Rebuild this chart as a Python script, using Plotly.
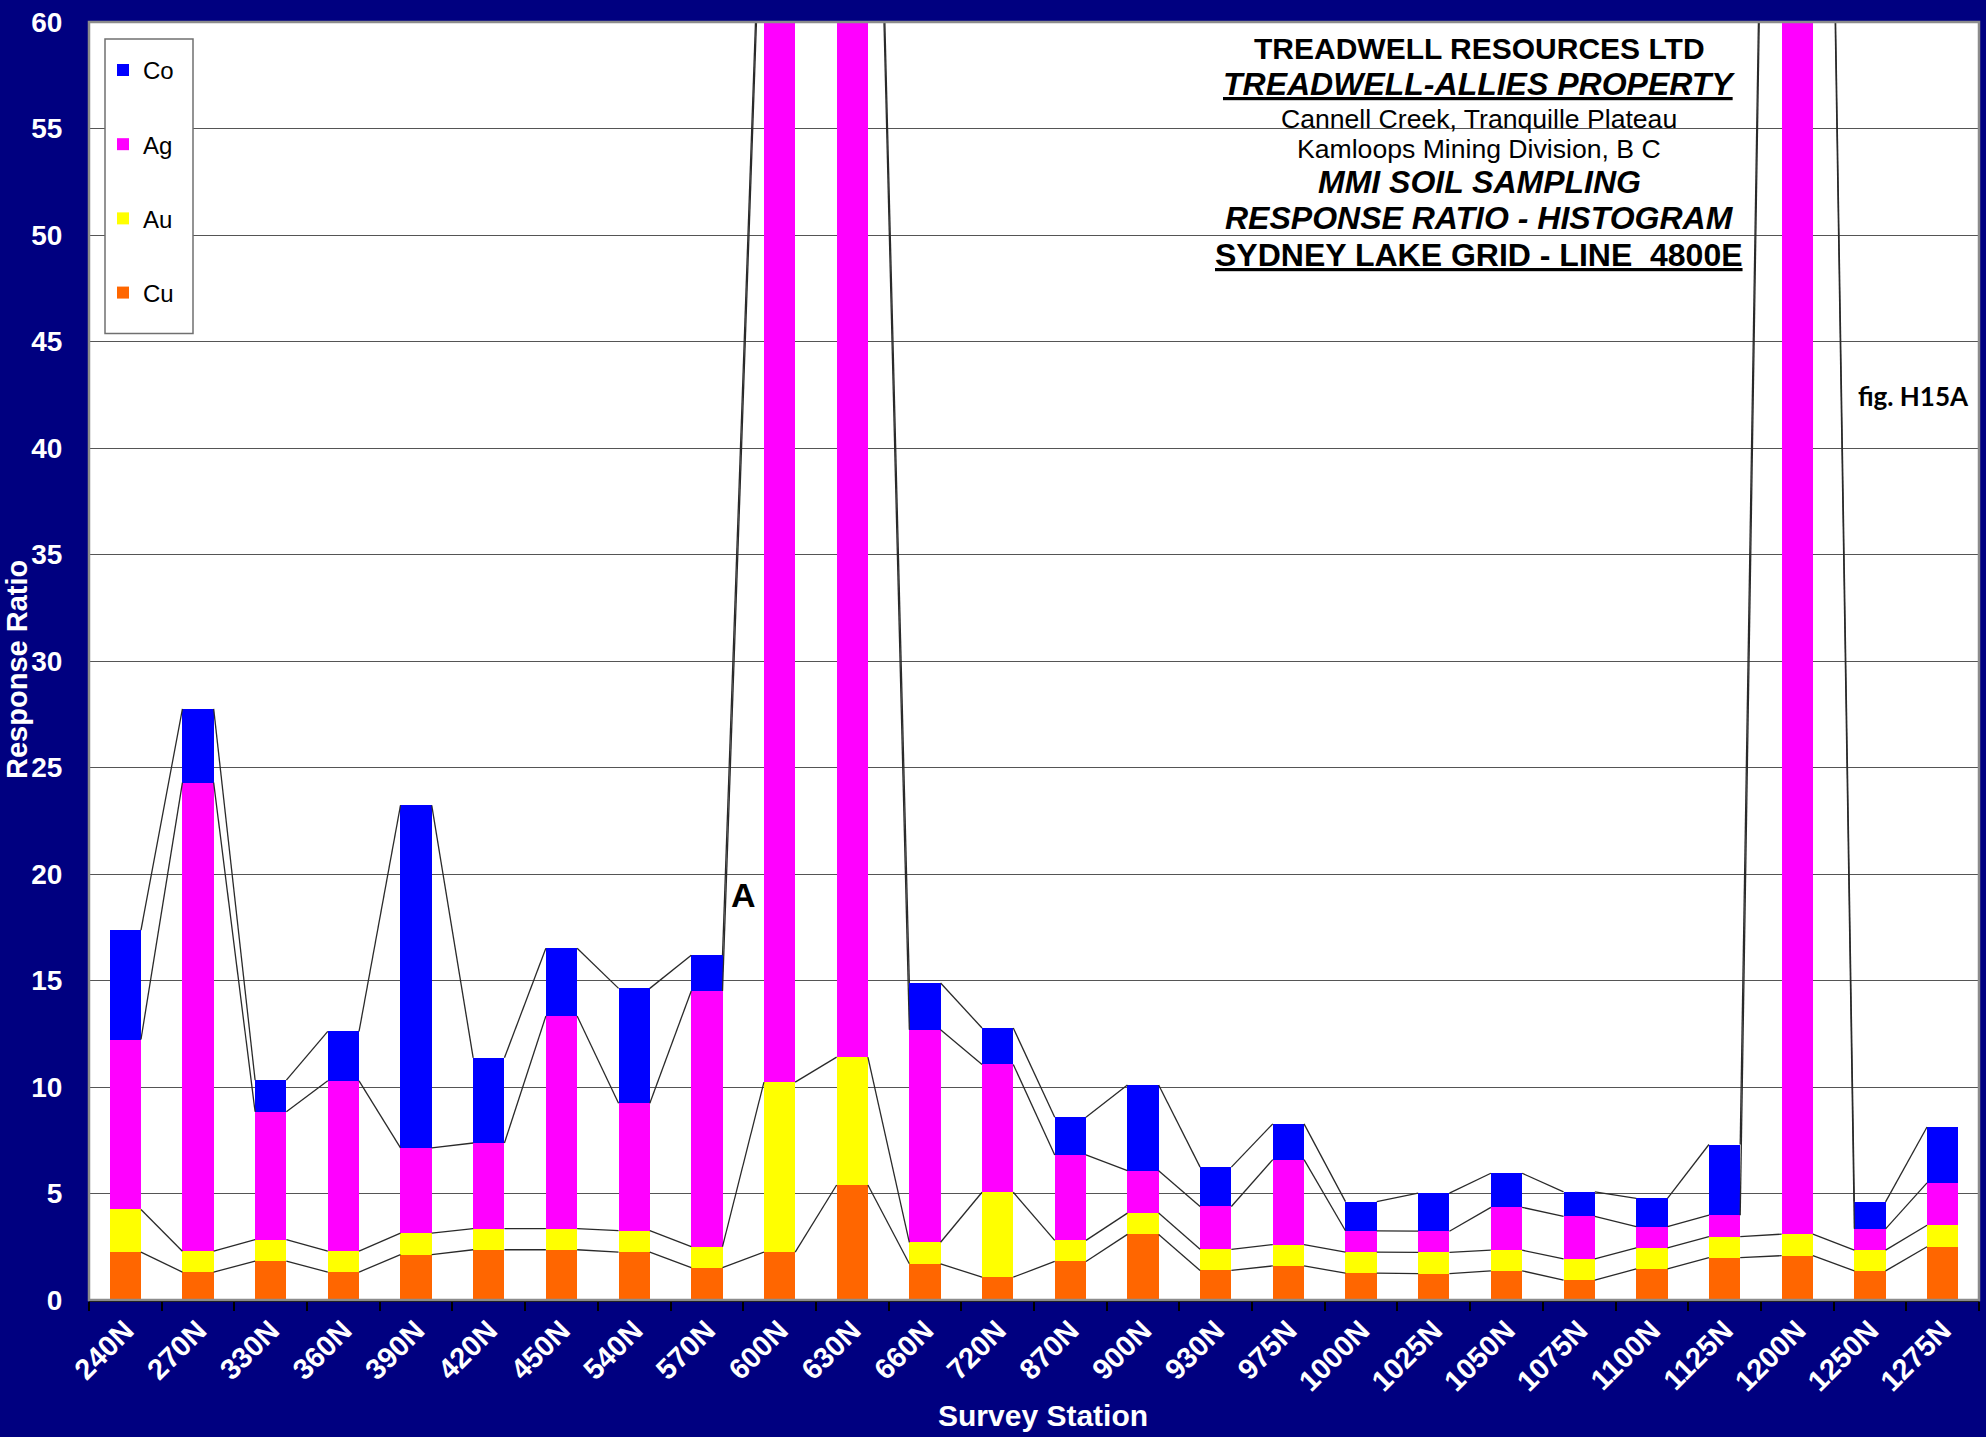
import plotly.graph_objects as go

# ---------------- data ----------------
stations = ["240N", "270N", "330N", "360N", "390N", "420N", "450N", "540N", "570N",
            "600N", "630N", "660N", "720N", "870N", "900N", "930N", "975N", "1000N",
            "1025N", "1050N", "1075N", "1100N", "1125N", "1200N", "1250N", "1275N"]

cu = [2.25, 1.31, 1.83, 1.31, 2.13, 2.36, 2.36, 2.25, 1.52, 2.25, 5.40, 1.70, 1.07,
      1.81, 3.08, 1.39, 1.60, 1.26, 1.24, 1.37, 0.93, 1.46, 1.99, 2.08, 1.37, 2.50]
au = [2.00, 0.98, 1.01, 0.98, 1.01, 0.99, 0.99, 1.01, 0.99, 7.98, 6.00, 1.01, 3.99,
      0.99, 1.00, 0.99, 1.00, 0.99, 1.00, 0.97, 1.00, 0.99, 0.99, 1.01, 0.97, 1.01]
ag = [7.98, 22.00, 6.00, 8.00, 4.00, 4.02, 9.98, 5.98, 12.00, 59.8, 78.6, 9.98, 6.00,
      4.01, 1.99, 2.01, 3.99, 1.00, 0.99, 2.01, 2.00, 1.00, 1.00, 122.9, 1.00, 1.99]
co = [5.14, 3.46, 1.48, 2.32, 16.08, 4.00, 3.18, 5.39, 1.68, 1.2, 1.2, 2.19, 1.71,
      1.77, 4.02, 1.85, 1.68, 1.37, 1.79, 1.60, 1.15, 1.32, 3.32, 1.2, 1.27, 2.62]

y_ticks = list(range(0, 61, 5))

title_lines = [
    ("TREADWELL RESOURCES LTD", "<b>{}</b>", 30),
    ("TREADWELL-ALLIES PROPERTY", "<b><i><u>{}</u></i></b>", 32),
    ("Cannell Creek, Tranquille Plateau", "{}", 26.6),
    ("Kamloops Mining Division, B C", "{}", 26.6),
    ("MMI SOIL SAMPLING", "<b><i>{}</i></b>", 32),
    ("RESPONSE RATIO - HISTOGRAM", "<b><i>{}</i></b>", 32),
    ("SYDNEY LAKE GRID - LINE\u00a0 4800E", "<b><u>{}</u></b>", 32),
]
title_y_px = [43, 78, 113, 144, 177, 213, 250]

# ---------------- figure ----------------
W, H = 1986, 1437
ML, MR, MT, MB = 89, 7, 16, 137
PW, PH = W - ML - MR, H - MT - MB
FONT = "Liberation Sans, Arial, sans-serif"
BAR_W = 0.43


def px_x(px):
    return (px - ML) / PW


def px_y(py):
    return (H - MB - py) / PH


series = [("Cu", cu, "#FF6600", 4), ("Au", au, "#FFFF00", 3),
          ("Ag", ag, "#FF00FF", 2), ("Co", co, "#0000FF", 1)]
n = len(stations)
xs = list(range(n))

fig = go.Figure()
for name, vals, color, rank in series:
    fig.add_trace(go.Bar(x=xs, y=vals, name=name, width=BAR_W, legendgroup=name,
                         legendrank=rank,
                         marker=dict(color=color, line=dict(width=0))))

# Excel-style series lines joining segment tops of neighbouring bars
cum = [0.0] * n
for name, vals, color, rank in series:
    cum = [c + v for c, v in zip(cum, vals)]
    lx, ly = [], []
    for i in range(n - 1):
        lx += [xs[i] + BAR_W / 2, xs[i + 1] - BAR_W / 2, None]
        ly += [cum[i], cum[i + 1], None]
    fig.add_trace(go.Scatter(x=lx, y=ly, mode="lines", showlegend=False,
                             hoverinfo="skip",
                             line=dict(color="#2a2a2a", width=1.3)))

annotations = []
for (txt, fmt, size), ypx in zip(title_lines, title_y_px):
    annotations.append(dict(text=fmt.format(txt), xref="paper", yref="paper",
                            x=px_x(1479), y=px_y(ypx),
                            xanchor="center", yanchor="middle", showarrow=False,
                            font=dict(family=FONT, size=size, color="black")))
annotations += [
    dict(text="<b>fig. H15A</b>", xref="paper", yref="paper",
         x=px_x(1913), y=px_y(392), xanchor="center", yanchor="middle",
         showarrow=False, font=dict(family="Lato, Open Sans, sans-serif", size=26, color="black")),
    dict(text="<b>A</b>", xref="x", yref="y", x=8.5, y=19, showarrow=False,
         xanchor="center", yanchor="middle",
         font=dict(family=FONT, size=34, color="black")),
    dict(text="<b>Survey Station</b>", xref="paper", yref="paper",
         x=px_x(1043), y=px_y(1416), xanchor="center", yanchor="middle",
         showarrow=False, font=dict(family=FONT, size=30, color="white")),
    dict(text="<b>Response Ratio</b>", xref="paper", yref="paper", textangle=-90,
         x=px_x(17), y=px_y(667), xanchor="center", yanchor="middle",
         showarrow=False, font=dict(family=FONT, size=29, color="white")),
]

fig.update_layout(
    width=W, height=H, autosize=False,
    margin=dict(l=ML, r=MR, t=MT, b=MB, pad=0),
    paper_bgcolor="#000080", plot_bgcolor="white",
    barmode="stack", bargap=0,
    showlegend=True,
    legend=dict(x=px_x(103), y=px_y(42), xanchor="left", yanchor="top",
                bgcolor="rgba(0,0,0,0)", borderwidth=0,
                traceorder="grouped", tracegroupgap=40,
                font=dict(family=FONT, size=24, color="black")),
    annotations=annotations,
    shapes=[
        dict(type="rect", xref="paper", yref="paper", x0=0, x1=1, y0=0, y1=1,
             line=dict(color="#8c8c8c", width=2.5), layer="above"),
        # legend frame
        dict(type="rect", xref="paper", yref="paper",
             x0=px_x(105), x1=px_x(193), y0=px_y(329), y1=px_y(33),
             fillcolor="white", line=dict(color="#707070", width=1.5), layer="above"),
    ],
)

fig.update_xaxes(
    range=[-0.5, n - 0.5], tickmode="array", tickvals=xs, ticktext=stations,
    tickangle=-45, ticks="", showgrid=False, zeroline=False,
    showline=True, linecolor="black", linewidth=2,
    tickfont=dict(family=FONT, size=29, color="white", weight="bold"),
    minor=dict(tickmode="array", tickvals=[i - 0.5 for i in range(n + 1)],
               ticks="outside", ticklen=9, tickcolor="black", tickwidth=1.5,
               showgrid=False),
)
fig.update_yaxes(
    range=[0, 60], tickmode="array", tickvals=y_ticks,
    ticks="outside", ticklen=20, tickcolor="#000080",
    showgrid=True, gridcolor="#555555", gridwidth=1.3, zeroline=False,
    showline=False,
    tickfont=dict(family=FONT, size=28, color="white", weight="bold"),
)

fig.write_html("out.html", config={"displayModeBar": False},
               post_script="document.body.style.margin='0';document.body.style.overflow='hidden';")
